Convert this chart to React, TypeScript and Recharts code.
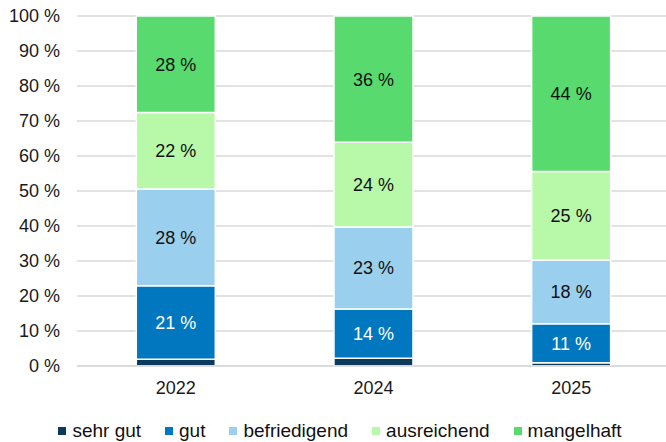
import React from "react";
import { BarChart, Bar, XAxis, YAxis, CartesianGrid, Legend, LabelList } from "recharts";

const years = ["2022", "2024", "2025"];
const sehrGut = [1.9, 2.2, 0.9];
const gut = [21.0, 14.1, 11.2];
const befriedigend = [27.7, 23.4, 18.2];
const ausreichend = [21.8, 24.2, 25.3];
const mangelhaft = [27.6, 36.1, 44.4];
const yTicks = [0, 10, 20, 30, 40, 50, 60, 70, 80, 90, 100];

const series = [
  { key: "sehrGut", name: "sehr gut", color: "#0c3a5b", values: sehrGut, label: null },
  { key: "gut", name: "gut", color: "#0077bf", values: gut, label: "#ffffff" },
  { key: "befriedigend", name: "befriedigend", color: "#9acfed", values: befriedigend, label: "#111111" },
  { key: "ausreichend", name: "ausreichend", color: "#b8f8a9", values: ausreichend, label: "#111111" },
  { key: "mangelhaft", name: "mangelhaft", color: "#58da6f", values: mangelhaft, label: "#111111" },
];

const data = years.map((y, i) => {
  const row: any = { year: y };
  series.forEach((s) => (row[s.key] = s.values[i]));
  return row;
});

const FONT = "'Liberation Sans', Arial, sans-serif";

const LegendContent = () => (
  <div
    style={{
      display: "flex",
      justifyContent: "center",
      alignItems: "center",
      height: 40,
      paddingTop: 18,
      paddingLeft: 10,
      boxSizing: "border-box",
      fontFamily: FONT,
      fontSize: 19,
      color: "#111",
    }}
  >
    {series.map((s, i) => (
      <div
        key={s.key}
        style={{ display: "flex", alignItems: "center", marginRight: i < series.length - 1 ? 24 : 0 }}
      >
        <span style={{ width: 8, height: 8, background: s.color, display: "inline-block", marginRight: 6 }} />
        <span>{s.name}</span>
      </div>
    ))}
  </div>
);

export default function App() {
  return (
    <div style={{ position: "absolute", left: 0, top: 0 }}>
      <BarChart
        width={680}
        height={442}
        data={data}
        margin={{ top: 16, right: 10, bottom: 0, left: 0 }}
        barCategoryGap="30%"
      >
        <CartesianGrid vertical={false} stroke="#d9d9d9" strokeWidth={1.5} />
        <XAxis
          dataKey="year"
          height={36}
          tickLine={false}
          tickSize={0}
          tickMargin={15}
          axisLine={{ stroke: "#d9d9d9", strokeWidth: 1.5 }}
          tick={{ fontFamily: FONT, fontSize: 18, fill: "#1a1a1a" }}
        />
        <YAxis
          width={77}
          domain={[0, 100]}
          ticks={yTicks}
          interval={0}
          tickLine={false}
          axisLine={false}
          tickSize={0}
          tickMargin={17}
          tickFormatter={(v: number) => `${v} %`}
          tick={{ fontFamily: FONT, fontSize: 18, fill: "#1a1a1a" }}
        />
        <Legend verticalAlign="bottom" height={40} content={<LegendContent />} />
        {series.map((s) => (
          <Bar
            key={s.key}
            dataKey={s.key}
            name={s.name}
            stackId="a"
            fill={s.color}
            stroke="#ffffff"
            strokeWidth={1.5}
            isAnimationActive={false}
          >
            {s.label && (
              <LabelList
                dataKey={s.key}
                position="center"
                formatter={(v: number) => `${Math.round(v)} %`}
                style={{ fontFamily: FONT, fontSize: 18, fill: s.label }}
              />
            )}
          </Bar>
        ))}
      </BarChart>
    </div>
  );
}
